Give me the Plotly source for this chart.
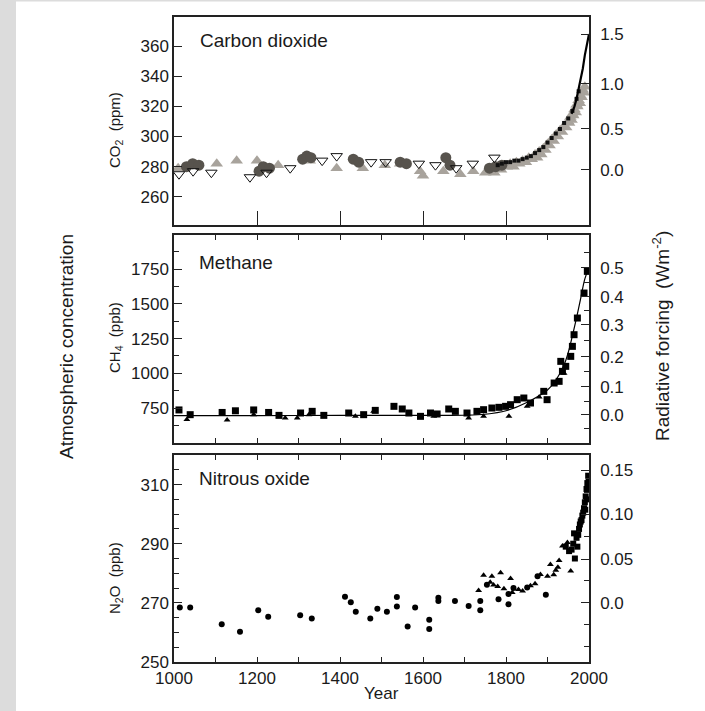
import plotly.graph_objects as go

W, H = 705, 711

# ---------------- DATA ----------------
# CO2 (ppm)
co2_circle_year = [1030, 1045, 1060, 1205, 1215, 1230, 1310, 1320, 1330, 1432, 1445, 1545, 1560, 1655, 1665, 1760, 1775, 1790]
co2_circle_ppm = [280, 282, 281, 277, 280, 279, 285, 287, 286, 285, 283, 283, 282, 286, 281, 279, 280, 281]

co2_tri_year = [1010, 1103, 1151, 1200, 1251, 1327, 1392, 1455, 1508, 1545, 1593, 1600, 1649, 1690, 1721,
                1750, 1765, 1780, 1795, 1810, 1825, 1840, 1855, 1870, 1880, 1890, 1900, 1910, 1920,
                1930, 1940, 1950, 1955, 1960, 1965, 1970, 1975, 1980, 1985, 1990,
                1758, 1772, 1788, 1802, 1818, 1832, 1848, 1862, 1875, 1885, 1895, 1905, 1915, 1925,
                1935, 1945, 1952, 1958, 1962, 1968, 1972, 1978, 1982, 1988]
co2_tri_ppm = [279, 282, 284, 284, 281, 284, 279, 279, 281, 282, 277, 274, 277, 275, 277,
               276, 277, 279, 281, 282, 283, 284, 286, 288, 290, 292, 295, 298, 301,
               304, 307, 310, 313, 315, 318, 321, 324, 327, 331, 333,
               278, 276, 278, 280, 280, 282, 283, 285, 286, 288, 291, 294, 297, 300,
               303, 306, 309, 311, 314, 316, 320, 322, 326, 329]

co2_open_year = [1012, 1046, 1090, 1183, 1223, 1280, 1357, 1392, 1475, 1510, 1590, 1630, 1680, 1720, 1772]
co2_open_ppm = [275, 277, 276, 273, 276, 279, 284, 287, 283, 283, 282, 281, 279, 282, 286]

co2_black_year = [1780, 1790, 1800, 1810, 1820, 1830, 1840, 1850, 1860, 1870, 1880, 1890, 1900, 1910, 1920,
                  1930, 1940, 1950, 1960, 1970, 1975]
co2_black_ppm = [281, 282, 283, 283, 284, 284, 285, 286, 287, 289, 291, 293, 296, 299, 302,
                 305, 309, 312, 317, 325, 330]

co2_ml_year = [1958, 1965, 1970, 1975, 1980, 1985, 1990, 1995, 2000]
co2_ml_ppm = [315, 320, 325, 331, 338, 345, 354, 360, 368]

co2_left_ticks = [260, 280, 300, 320, 340, 360]
co2_forcing_labels = ["0.0", "0.5", "1.0", "1.5"]
co2_forcing_pos = [278, 305, 335, 368]

# CH4 (ppb)
ch4_sq_year = [1012, 1039, 1116, 1148, 1192, 1228, 1253, 1305, 1333, 1361, 1421, 1457, 1485, 1530, 1550,
               1566, 1594, 1618, 1634, 1662, 1678, 1706, 1730, 1746, 1766, 1783, 1799, 1811, 1827, 1843,
               1859, 1891, 1899, 1916, 1928, 1932, 1936, 1944, 1956, 1960, 1964, 1972, 1988, 1996]
ch4_sq_ppb = [736, 702, 718, 730, 736, 718, 697, 714, 726, 697, 714, 702, 733, 762, 743,
              714, 690, 714, 707, 743, 726, 714, 726, 738, 750, 755, 762, 774, 810, 822,
              786, 870, 810, 930, 942, 1086, 1014, 1050, 1122, 1194, 1278, 1398, 1578, 1734]
ch4_tri_year = [1031, 1128, 1192, 1268, 1297, 1325, 1437, 1481, 1626, 1710, 1746, 1807, 1851, 1880, 1940]
ch4_tri_ppb = [668, 663, 702, 678, 678, 702, 690, 726, 690, 678, 690, 690, 762, 830, 1000]
ch4_line_year = [1000, 1200, 1400, 1600, 1700, 1750, 1800, 1850, 1900, 1920, 1940, 1950, 1960, 1970, 1980, 1990, 2000]
ch4_line_ppb = [695, 695, 697, 697, 698, 705, 730, 790, 880, 950, 1060, 1150, 1270, 1400, 1540, 1680, 1760]

ch4_left_ticks = [750, 1000, 1250, 1500, 1750]
ch4_left_minor = [625, 875, 1125, 1375, 1625, 1875]
ch4_forcing_labels = ["0.0", "0.1", "0.2", "0.3", "0.4", "0.5"]
ch4_forcing_pos = [700, 902, 1118, 1348, 1550, 1759]
ch4_forcing_minor = [600, 800, 1010, 1233, 1449, 1655, 1870]

# N2O (ppb)
n2o_dot_year = [1014, 1039, 1115, 1159, 1203, 1227, 1304, 1332, 1412, 1426, 1438, 1473, 1490, 1513, 1537,
                1537, 1563, 1581, 1615, 1615, 1637, 1637, 1677, 1710, 1738, 1738, 1754, 1782, 1806, 1806,
                1818, 1851, 1876, 1896]
n2o_dot_ppb = [268.4, 268.4, 262.8, 260.2, 267.5, 265.3, 265.8, 264.7, 272.1, 270.2, 267.0, 264.7, 268.0, 267.0, 272.0,
               268.8, 262.0, 268.4, 264.3, 261.2, 271.7, 270.6, 270.6, 268.9, 270.6, 267.5, 276.1, 271.2, 269.5, 273.0,
               275.0, 275.2, 279.0, 272.7]
n2o_tri_year = [1734, 1746, 1762, 1766, 1787, 1811, 1830, 1859, 1883, 1907, 1920, 1928, 1936, 1948, 1956,
                1770, 1780, 1795, 1815, 1840, 1870, 1900, 1915, 1925]
n2o_tri_ppb = [274.2, 279.3, 277.0, 279.0, 280.2, 278.2, 274.5, 275.8, 279.6, 283.0, 281.0, 284.3, 289.2, 290.4, 280.8,
               276.0, 275.5, 274.8, 273.5, 274.0, 276.5, 279.0, 279.5, 282.0]
n2o_sq_year = [1944, 1952, 1962, 1966, 1970, 1974, 1978, 1982, 1986, 1988, 1990, 1992, 1994, 1996, 1998, 2000,
               1958, 1964, 1972, 1976, 1980, 1984, 1991, 1995, 1999]
n2o_sq_ppb = [289.0, 287.5, 290.0, 285.0, 292.0, 293.0, 296.5, 298.0, 300.5, 302.0, 304.0, 306.0, 308.5, 310.5, 313.0, 309.5,
              288.0, 293.5, 289.0, 295.0, 297.5, 299.5, 301.5, 305.0, 311.0]

n2o_left_ticks = [250, 270, 290, 310]
n2o_forcing_labels = ["0.0", "0.05", "0.10", "0.15"]
n2o_forcing_pos = [270, 284.8, 300, 314.8]
n2o_forcing_minor = [255.2, 262.6, 277.4, 292.4, 307.4]

x_label_ticks = [1000, 1200, 1400, 1600, 1800, 2000]
x_all_ticks = [1000, 1100, 1200, 1300, 1400, 1500, 1600, 1700, 1800, 1900, 2000]
co2_x_ticks = [1200, 1400, 1600, 1800]

# ---------------- LAYOUT GEOMETRY ----------------
def px_x(p):
    return p / W

def px_y(p):
    return 1 - p / H

XD = [px_x(174), px_x(589)]
Y1 = [px_y(225), px_y(17)]
Y2 = [px_y(443), px_y(235)]
Y3 = [px_y(662), px_y(455)]

FONT = "Liberation Sans, Arial, Helvetica, sans-serif"
TXT = "#1a1a1a"
LINE = "#222222"

fig = go.Figure()

# ---- CO2 ----
fig.add_trace(go.Scatter(x=co2_tri_year, y=co2_tri_ppm, mode="markers", xaxis="x", yaxis="y",
                         marker=dict(symbol="triangle-up", size=11, color="#a8a39c", line=dict(width=0))))
fig.add_trace(go.Scatter(x=co2_circle_year, y=co2_circle_ppm, mode="markers", xaxis="x", yaxis="y",
                         marker=dict(symbol="circle", size=11, color="#57534d", line=dict(width=0))))
fig.add_trace(go.Scatter(x=co2_open_year, y=co2_open_ppm, mode="markers", xaxis="x", yaxis="y",
                         marker=dict(symbol="triangle-down-open", size=10, color="#111111", line=dict(width=1))))
fig.add_trace(go.Scatter(x=co2_black_year, y=co2_black_ppm, mode="markers", xaxis="x", yaxis="y",
                         marker=dict(symbol="square", size=4, color="#111111")))
fig.add_trace(go.Scatter(x=co2_ml_year, y=co2_ml_ppm, mode="lines", xaxis="x", yaxis="y",
                         line=dict(color="#000000", width=2.2)))
fig.add_trace(go.Scatter(x=[None], y=[None], xaxis="x", yaxis="y2", showlegend=False, mode="markers"))

# ---- CH4 ----
fig.add_trace(go.Scatter(x=ch4_line_year, y=ch4_line_ppb, mode="lines", xaxis="x2", yaxis="y3",
                         line=dict(color="#000000", width=1.2, shape="spline")))
fig.add_trace(go.Scatter(x=ch4_sq_year, y=ch4_sq_ppb, mode="markers", xaxis="x2", yaxis="y3",
                         marker=dict(symbol="square", size=7, color="#000000")))
fig.add_trace(go.Scatter(x=ch4_tri_year, y=ch4_tri_ppb, mode="markers", xaxis="x2", yaxis="y3",
                         marker=dict(symbol="triangle-up", size=6, color="#000000")))
fig.add_trace(go.Scatter(x=[None], y=[None], xaxis="x2", yaxis="y4", showlegend=False, mode="markers"))

# ---- N2O ----
fig.add_trace(go.Scatter(x=n2o_dot_year, y=n2o_dot_ppb, mode="markers", xaxis="x3", yaxis="y5",
                         marker=dict(symbol="circle", size=6, color="#000000")))
fig.add_trace(go.Scatter(x=n2o_tri_year, y=n2o_tri_ppb, mode="markers", xaxis="x3", yaxis="y5",
                         marker=dict(symbol="triangle-up", size=6, color="#000000")))
fig.add_trace(go.Scatter(x=n2o_sq_year, y=n2o_sq_ppb, mode="markers", xaxis="x3", yaxis="y5",
                         marker=dict(symbol="square", size=6, color="#000000")))
fig.add_trace(go.Scatter(x=[None], y=[None], xaxis="x3", yaxis="y6", showlegend=False, mode="markers"))

tickfont = dict(family=FONT, size=17, color=TXT)

common_axis = dict(showgrid=False, zeroline=False, showline=True, linecolor=LINE, linewidth=1.5,
                   tickcolor=LINE, tickwidth=1.2, automargin=False, tickfont=tickfont)

fig.update_layout(
    width=W, height=H, margin=dict(l=0, r=0, t=0, b=0),
    paper_bgcolor="white", plot_bgcolor="white", showlegend=False, template="none",
    # panel 1
    xaxis=dict(domain=XD, anchor="y", range=[1000, 2000], tickmode="array", tickvals=co2_x_ticks,
               showticklabels=False, ticks="inside", ticklen=14, mirror=True, **common_axis),
    yaxis=dict(domain=Y1, anchor="x", range=[241.3, 379.3], tickmode="array", tickvals=co2_left_ticks,
               ticks="inside", ticklen=8, mirror=True, **common_axis),
    yaxis2=dict(overlaying="y", side="right", anchor="x", range=[241.3, 379.3], tickmode="array",
                tickvals=co2_forcing_pos, ticktext=co2_forcing_labels, ticks="inside", ticklen=8,
                ticklabelstandoff=6, **common_axis),
    # panel 2
    xaxis2=dict(domain=XD, anchor="y3", range=[1000, 2000], tickmode="array", tickvals=x_all_ticks,
                showticklabels=False, ticks="inside", ticklen=5, mirror="ticks", **common_axis),
    yaxis3=dict(domain=Y2, anchor="x2", range=[498, 1996], tickmode="array", tickvals=ch4_left_ticks,
                ticks="inside", ticklen=8, mirror=True,
                minor=dict(tickmode="array", tickvals=ch4_left_minor, ticks="inside", ticklen=5,
                           tickcolor=LINE, tickwidth=1.2), **common_axis),
    yaxis4=dict(overlaying="y3", side="right", anchor="x2", range=[498, 1996], tickmode="array",
                tickvals=ch4_forcing_pos, ticktext=ch4_forcing_labels, ticks="inside", ticklen=8,
                ticklabelstandoff=6,
                minor=dict(tickmode="array", tickvals=ch4_forcing_minor, ticks="inside", ticklen=5,
                           tickcolor=LINE, tickwidth=1.2), **common_axis),
    # panel 3
    xaxis3=dict(domain=XD, anchor="y5", range=[1000, 2000], tickmode="array", tickvals=x_label_ticks,
                ticks="inside", ticklen=5, mirror="ticks",
                minor=dict(tickmode="array", tickvals=x_all_ticks, ticks="inside", ticklen=5,
                           tickcolor=LINE, tickwidth=1.2), **common_axis),
    yaxis5=dict(domain=Y3, anchor="x3", range=[250, 320], tickmode="array", tickvals=n2o_left_ticks,
                ticks="inside", ticklen=8, mirror=True,
                minor=dict(tickmode="linear", tick0=250, dtick=5, ticks="inside", ticklen=5,
                           tickcolor=LINE, tickwidth=1.2), **common_axis),
    yaxis6=dict(overlaying="y5", side="right", anchor="x3", range=[250, 320], tickmode="array",
                tickvals=n2o_forcing_pos, ticktext=n2o_forcing_labels, ticks="inside", ticklen=8,
                ticklabelstandoff=6,
                minor=dict(tickmode="array", tickvals=n2o_forcing_minor, ticks="inside", ticklen=5,
                           tickcolor=LINE, tickwidth=1.2), **common_axis),
)

# left gray strip and top strip
fig.add_shape(type="rect", xref="paper", yref="paper", x0=0, x1=px_x(16), y0=0, y1=1,
              fillcolor="#dcdcdc", line=dict(width=0), layer="below")
fig.add_shape(type="rect", xref="paper", yref="paper", x0=0, x1=1, y0=px_y(1.5), y1=1,
              fillcolor="#dcdcdc", line=dict(width=0), layer="below")

big = dict(family=FONT, size=19, color=TXT)
mid = dict(family=FONT, size=15, color=TXT)

def ann(text, x, y, font, angle=0, xanchor="center"):
    fig.add_annotation(text=text, x=px_x(x), y=px_y(y), xref="paper", yref="paper",
                       showarrow=False, font=font, textangle=angle, xanchor=xanchor, yanchor="middle")

ann("Carbon dioxide", 198, 40, big, xanchor="left")
ann("Methane", 197, 262, big, xanchor="left")
ann("Nitrous oxide", 197, 478, big, xanchor="left")
ann("CO<sub>2</sub>  (ppm)", 115, 130, mid, angle=-90)
ann("CH<sub>4</sub>  (ppb)", 115, 338, mid, angle=-90)
ann("N<sub>2</sub>O  (ppb)", 115, 578, mid, angle=-90)
ann("Atmospheric concentration", 66, 347, big, angle=-90)
ann("Radiative forcing  (Wm<sup>-2</sup>)", 661, 336, big, angle=-90)
ann("Year", 381, 693, dict(family=FONT, size=17, color=TXT))

fig.write_html("out.html")
